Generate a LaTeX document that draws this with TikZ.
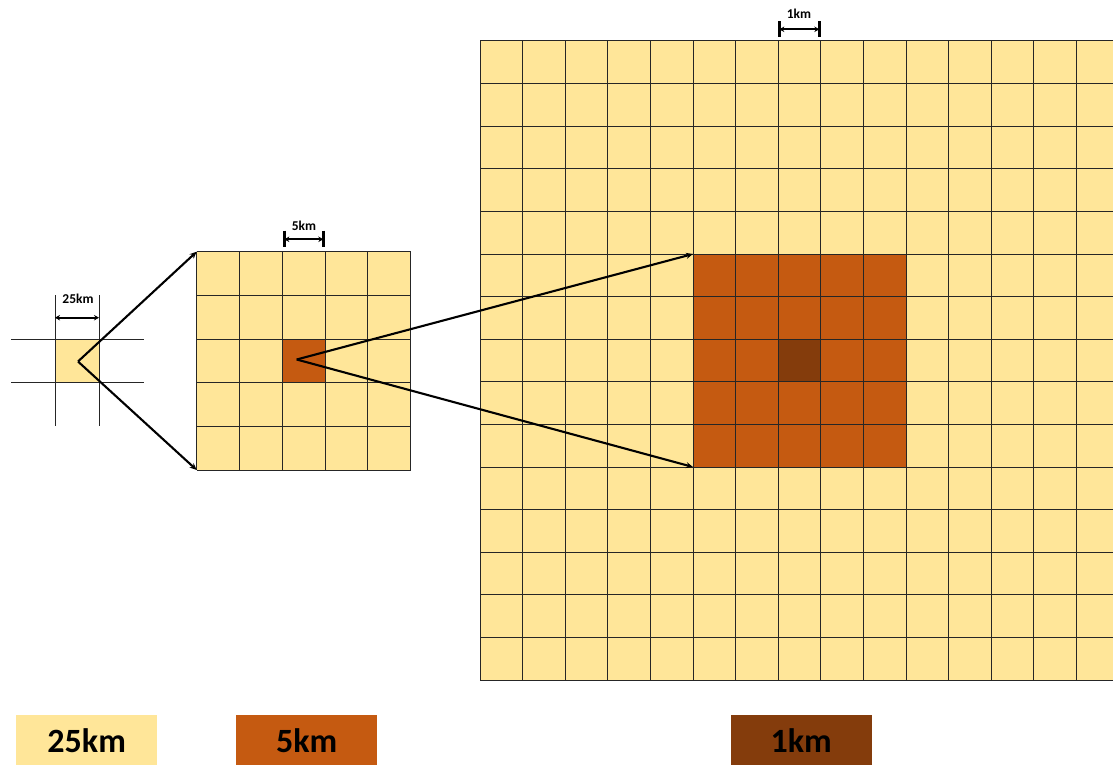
\documentclass[tikz,border=0pt]{standalone}
\usepackage{fontspec}
\setmainfont{Carlito}
\usetikzlibrary{arrows.meta}
\definecolor{cellY}{HTML}{FFE699}
\definecolor{cellO}{HTML}{C55A11}
\definecolor{cellB}{HTML}{843C0C}
\tikzset{
  gridline/.style={draw=black!85, line width=1pt},
  zoomarrow/.style={draw=black, line width=2.1pt, -{Stealth[length=7pt,width=6pt]}},
  scalebar/.style={draw=black, line width=2pt, {Stealth[length=5pt,width=5.5pt]}-{Stealth[length=5pt,width=5.5pt]}},
  tick/.style={draw=black, line width=2.5pt},
  scalelabel/.style={font=\bfseries\fontsize{13.5}{14}\selectfont, inner sep=0pt},
  legendbox/.style={minimum width=141pt, minimum height=51pt, inner sep=0pt, anchor=north west,
    font=\bfseries\fontsize{34}{36}\selectfont, text=black},
}
\begin{document}
\begin{tikzpicture}[x=1pt,y=-1pt]
\clip (0,0) rectangle (1113,765);
\fill[white] (0,0) rectangle (1113,765);

% --- coarse cell (25 km) with neighbouring grid lines
\fill[cellY] (55,339) rectangle (99,382.7);
\draw[gridline] (11,339) -- (144,339) (11,382.7) -- (144,382.7);
\draw[gridline] (55,295) -- (55,425.7) (99,295) -- (99,425.7);
\draw[scalebar] (55,317.7) -- (99,317.7);
\node[scalelabel] (l25) at (78,299) {25km};
\coordinate (c25) at (78,361.5);

% --- 5 km grid
\fill[cellY] (196.7,251.7) rectangle (410.7,470);
\fill[cellO] (282.3,339.1) rectangle (325.1,382.8);
\foreach \i in {0,...,5} {
  \draw[gridline] (196.7+42.8*\i,251.7) -- (196.7+42.8*\i,470);
  \draw[gridline] (196.7,251.7+43.66*\i) -- (410.7,251.7+43.66*\i);
}
\coordinate (m5tl) at (196.7,251.7);
\coordinate (m5bl) at (196.7,470);
\coordinate (c5) at (296.7,359.5);
\draw[tick] (284.3,230.7) -- (284.3,247.3) (323.3,230.7) -- (323.3,247.3);
\draw[scalebar] (284.3,239.3) -- (323.3,239.3);
\node[scalelabel] (l5) at (304,226) {5km};

% --- 1 km grid
\fill[cellY] (480,41) rectangle (1120,680);
\fill[cellO] (480+42.6*5,41+42.6*5) rectangle (480+42.6*10,41+42.6*10);
\fill[cellB] (480+42.6*7,41+42.6*7) rectangle (480+42.6*8,41+42.6*8);
\foreach \i in {0,...,15} {
  \draw[gridline] (480+42.6*\i,41) -- (480+42.6*\i,680);
  \draw[gridline] (480,41+42.6*\i) -- (1120,41+42.6*\i);
}
\coordinate (b1tl) at (480+42.6*5,41+42.6*5);
\coordinate (b1bl) at (480+42.6*5,41+42.6*10);
\draw[tick] (779.3,21.5) -- (779.3,37.5) (819.3,21.5) -- (819.3,37.5);
\draw[scalebar] (779.3,29.3) -- (819.3,29.3);
\node[scalelabel] (l1) at (799,14) {1km};

% --- zoom arrows
\draw[zoomarrow] (c25) -- (m5tl);
\draw[zoomarrow] (c25) -- (m5bl);
\draw[zoomarrow] (c5) -- (b1tl);
\draw[zoomarrow] (c5) -- (b1bl);

% --- legend
\node[legendbox, fill=cellY] (k25) at (16,715) {25km};
\node[legendbox, fill=cellO] (k5) at (236,715) {5km};
\node[legendbox, fill=cellB] (k1) at (730.5,715) {1km};
\end{tikzpicture}
\end{document}
